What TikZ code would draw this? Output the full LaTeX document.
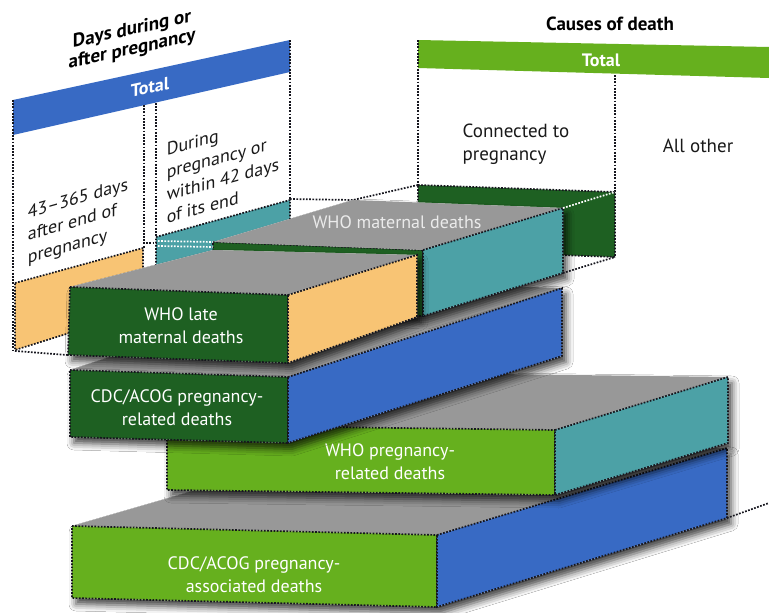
\documentclass[tikz,border=0pt]{standalone}
\usepackage{fontspec}
\setmainfont{PT Sans}
\usetikzlibrary{shadows.blur}
\definecolor{hblue}{RGB}{56,106,196}
\definecolor{lgreen}{RGB}{102,176,30}
\definecolor{dgreen}{RGB}{30,96,34}
\definecolor{tealc}{RGB}{76,161,166}
\definecolor{orng}{RGB}{248,196,116}
\definecolor{gtop}{RGB}{152,152,152}
\definecolor{dotc}{RGB}{22,22,30}
\definecolor{txtd}{RGB}{25,25,25}
\tikzset{
 dots/.style={dash pattern=on 1.7pt off 1.5pt, line width=1.7pt, draw=dotc},
 wdots/.style={dash pattern=on 1.7pt off 1.5pt, line width=1.7pt, draw=white},
 face/.style={fill=#1, dots},
 topface/.style={fill=gtop},
 shad/.style={fill=white, blur shadow={shadow xshift=4pt, shadow yshift=-6pt, shadow blur radius=7pt, shadow opacity=75}},
 lbl/.style={text=white, font=\fontsize{18}{23}\selectfont, align=center, inner sep=0pt},
 hdr/.style={text=black, font=\fontsize{19}{20}\selectfont\bfseries, align=center, inner sep=0pt},
 tot/.style={text=white, font=\fontsize{18}{18}\selectfont\bfseries, inner sep=0pt},
 coltxt/.style={text=txtd, font=\fontsize{18}{22.5}\selectfont, align=left, inner sep=0pt},
}
\begin{document}
\begin{tikzpicture}[x=1pt,y=-1pt]
\useasboundingbox (0,0) rectangle (769,613);
\fill[white] (0,0) rectangle (769,613);

% ---------- headers ----------
\fill[hblue] (13,100) -- (290,40) -- (290,72) -- (13,135) -- cycle;
\node[tot, yslant=0.22] (totL) at (150,87) {Total};
\node[hdr, yslant=0.22] (titleL) at (132,40) {Days during or\\after pregnancy};

\fill[lgreen] (418,40) -- (769,47) -- (769,78) -- (418,68) -- cycle;
\node[tot] (totR) at (601,60) {Total};
\node[hdr] (titleR) at (610,24) {Causes of death};

% column dividers
\draw[dots] (13,100) -- (13,351);
\draw[dots] (144,105) -- (144,248);
\draw[dots] (156,103) -- (156,237);
\draw[dots] (290,40) -- (290,200);
\draw[dots] (418,40) -- (418,185);
\draw[dots] (615,75) -- (615,192);

\node[coltxt, yslant=0.28] (lateTxt) at (78,222) {43–365 days\\after end of\\pregnancy};
\node[coltxt, yslant=0.27] (durTxt) at (223,168) {During\\pregnancy or\\within 42 days\\of its end};
\node[coltxt, font=\fontsize{19}{23}\selectfont] (connTxt) at (516,144) {Connected to\\pregnancy};
\node[coltxt, font=\fontsize{19}{23}\selectfont] (otherTxt) at (698,146) {All other};

% ---------- CDC/ACOG pregnancy-associated ----------
\fill[shad] (72,526) -- (362,442) -- (727,448) -- (727,518) -- (437,607) -- (72,598) -- cycle;
\fill[topface] (72,526) -- (437,535) -- (727,448) -- (362,442) -- cycle;
\draw[face=lgreen] (72,526) -- (437,535) -- (437,607) -- (72,598) -- cycle;
\draw[face=hblue] (437,535) -- (727,448) -- (727,518) -- (437,607) -- cycle;
\draw[dots] (727,518) -- (769,503);
\node[lbl] (assoc) at (254,575) {CDC/ACOG pregnancy-\\associated deaths};

% ---------- WHO pregnancy-related ----------
\fill[shad] (167,425) -- (340,372) -- (728,377) -- (728,443) -- (555,495) -- (167,490) -- cycle;
\fill[topface] (167,425) -- (555,430) -- (728,377) -- (340,372) -- cycle;
\draw[face=lgreen] (167,425) -- (555,430) -- (555,495) -- (167,490) -- cycle;
\draw[face=tealc] (555,430) -- (728,377) -- (728,443) -- (555,495) -- cycle;
\node[lbl] (whoRel) at (390,462) {WHO pregnancy-\\related deaths};

% ---------- CDC/ACOG pregnancy-related ----------
\fill[shad] (70,370) -- (344,281) -- (562,288) -- (562,356) -- (288,443) -- (70,437) -- cycle;
\fill[topface] (70,370) -- (288,377) -- (562,288) -- (344,281) -- cycle;
\draw[face=dgreen] (70,370) -- (288,377) -- (288,443) -- (70,437) -- cycle;
\draw[face=hblue] (288,377) -- (562,288) -- (562,356) -- (288,443) -- cycle;
\node[lbl] (cdcRel) at (177,408) {CDC/ACOG pregnancy-\\related deaths};

% ---------- column pieces behind WHO maternal ----------
\draw[face=tealc] (156,237) -- (290,200) -- (290,245) -- (156,282) -- cycle;
\draw[face=dgreen] (418,185) -- (615,192) -- (615,257) -- (418,250) -- cycle;
\draw[dots] (290,199) -- (353,200) -- (418,185);

% ---------- WHO maternal ----------
\fill[shad] (213,242) -- (353,200) -- (563,208) -- (563,273) -- (423,316) -- (213,309) -- cycle;
\draw[face=dgreen] (213,242) -- (423,250) -- (423,316) -- (213,309) -- cycle;
\fill[topface] (213,242) -- (423,250) -- (563,208) -- (353,200) -- cycle;
\draw[face=tealc] (423,250) -- (563,208) -- (563,273) -- (423,316) -- cycle;
\draw[wdots] (563,208) -- (615,192);
\draw[dots] (563,273) -- (615,257);
\node[lbl, text=white!92!black] (whoMat) at (397,222) {WHO maternal deaths};

% ---------- orange column piece ----------
\draw[face=orng] (15,283) -- (143,248) -- (143,310) -- (15,350) -- cycle;
\draw[dots] (15,351) -- (68,355);
\draw[dots] (143,243) -- (156,243);
\draw[wdots] (158,241) -- (213,242);
\draw[wdots] (158,246) -- (213,247);

% ---------- WHO late maternal ----------
\fill[shad] (70,287) -- (213,250) -- (417,255) -- (417,317) -- (288,363) -- (68,355) -- cycle;
\fill[topface] (70,287) -- (288,295) -- (417,255) -- (213,250) -- cycle;
\draw[face=dgreen] (70,287) -- (288,295) -- (288,363) -- (68,355) -- cycle;
\draw[face=orng] (288,295) -- (417,255) -- (417,317) -- (288,363) -- cycle;
\node[lbl] (whoLate) at (181,326) {WHO late\\maternal deaths};
\end{tikzpicture}
\end{document}
